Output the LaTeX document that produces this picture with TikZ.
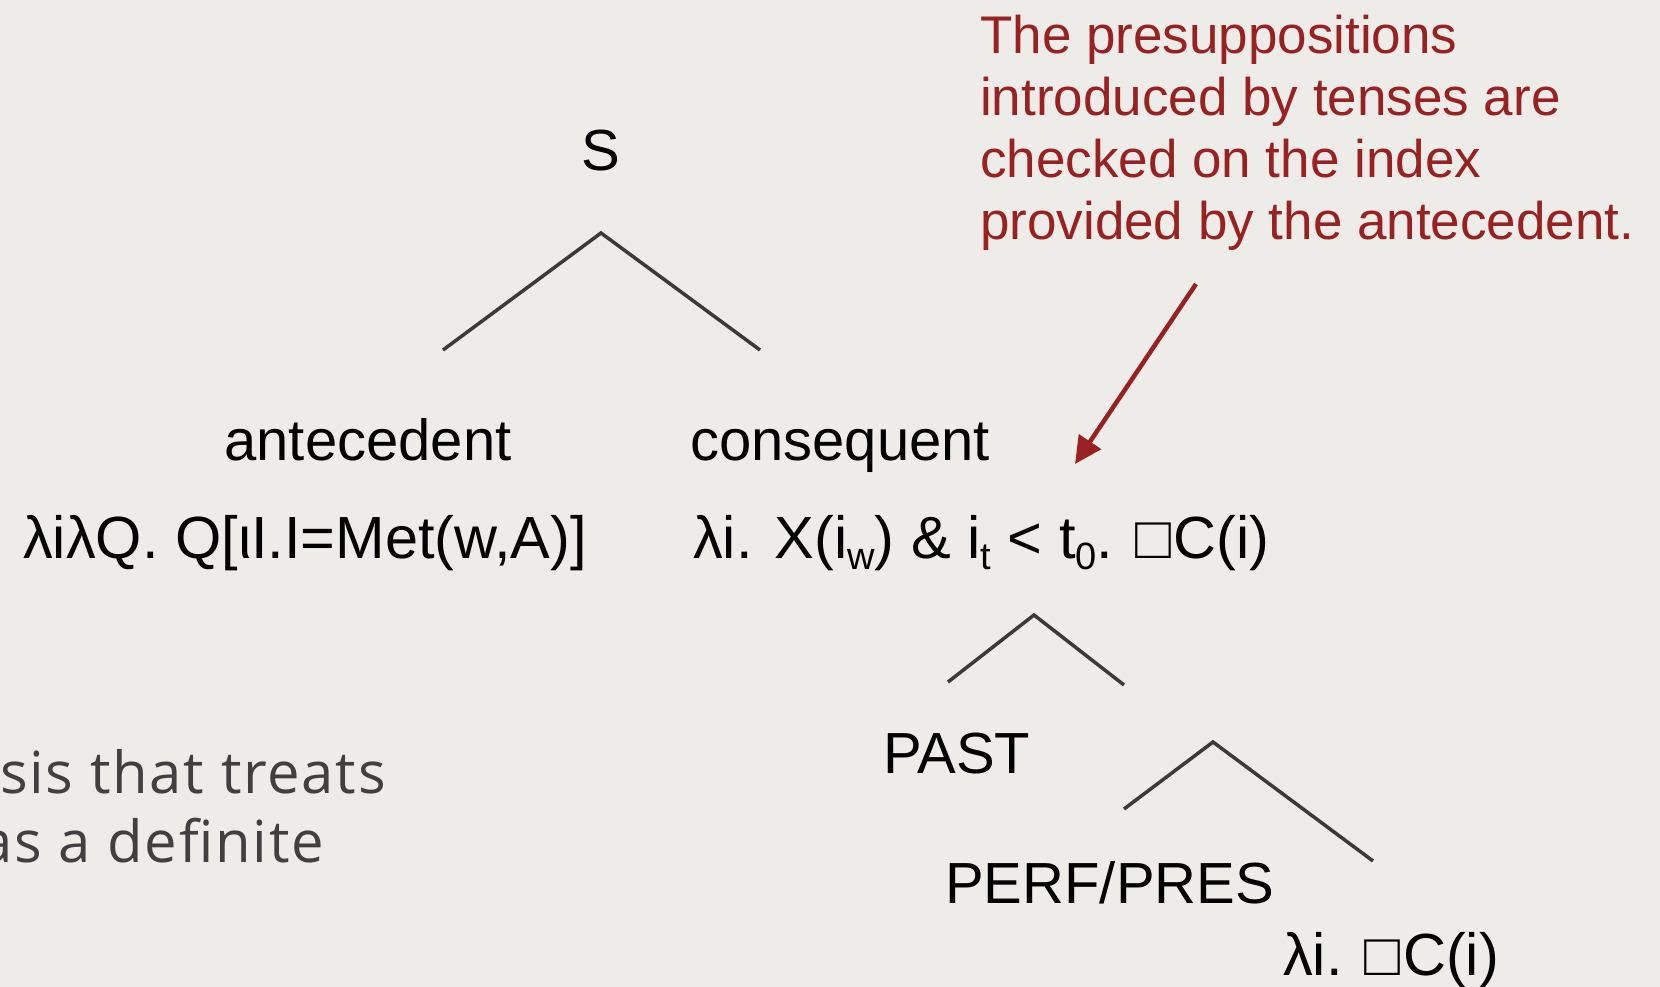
\documentclass[tikz,border=0pt]{standalone}
\usepackage{fontspec}
\setmainfont{Liberation Sans}
\newfontfamily\greyfont[LetterSpace=3]{Open Sans}
\usetikzlibrary{arrows.meta}
\definecolor{bg}{RGB}{237,236,232}
\definecolor{branch}{RGB}{58,58,58}
\definecolor{note}{RGB}{152,34,34}
\definecolor{greytext}{RGB}{64,64,64}
\newcommand{\lsub}[1]{\raisebox{-0.2em}{\fontsize{38}{38}\selectfont #1}}
\newcommand{\nbox}{□\hspace{0.04em}}
\begin{document}
\begin{tikzpicture}[x=1pt,y=-1pt,
  lbl/.style={font=\fontsize{58}{58}\selectfont, text=black, inner sep=0pt},
  formula/.style={font=\fontsize{59.5}{60}\selectfont, text=black, inner sep=0pt},
  branchline/.style={draw=branch, line width=3.5pt},
  notetext/.style={font=\fontsize{53}{62}\selectfont, text=note, inner sep=0pt, align=left},
  notearrow/.style={draw=note, line width=4.5pt, -{Triangle[length=27pt,width=26pt]}},
  greylbl/.style={font=\greyfont\fontsize{58}{69}\selectfont, text=greytext, inner sep=0pt}]
\fill[bg] (0,0) rectangle (1660,987);
\useasboundingbox (0,0) rectangle (1660,987);
\clip (0,0) rectangle (1660,987);

% labels
\node[lbl, anchor=base] (S) at (601,171) {S};
\node[lbl, anchor=base] (ant) at (368,460) {antecedent};
\node[lbl, anchor=base] (cons) at (840,460) {consequent};
\node[formula, anchor=base west] (antf) at (23,558) {λiλQ. Q[ιI.I=Met(w,A)]};
\node[formula, anchor=base west] (consf) at (693,558) {λi. X(i\lsub{w}) \& i\lsub{t} < t\lsub{0}. \nbox C(i)};
\node[lbl, anchor=base west] (past) at (883,773) {PAST};
\node[lbl, anchor=base west] (perf) at (945,903) {PERF/PRES};
\node[formula, anchor=base west] (cfun) at (1283,975) {λi. \nbox C(i)};

% tree branches
\coordinate (sTop) at (601,233);
\coordinate (sL) at (443,350);
\coordinate (sR) at (760,350);
\draw[branchline] (sL) -- (sTop) -- (sR);
\coordinate (cTop) at (1034,615);
\coordinate (cL) at (948,682);
\coordinate (cR) at (1124,685);
\draw[branchline] (cL) -- (cTop) -- (cR);
\coordinate (pTop) at (1213,742);
\coordinate (pL) at (1124,809);
\coordinate (pR) at (1373,861);
\draw[branchline] (pL) -- (pTop) -- (pR);

% note
\node[notetext, anchor=north west] (note) at (980,15) {The presuppositions\\introduced by tenses are\\checked on the index\\provided by the antecedent.};
\coordinate (arrS) at (1196,284);
\coordinate (arrE) at (1075,464);
\draw[notearrow] (arrS) -- (arrE);

% cut-off body text at left
\node[greylbl, anchor=base east] (g1) at (386,793) {sis that treats};
\node[greylbl, anchor=base east] (g2) at (324,862) {as a definite};
\end{tikzpicture}
\end{document}
